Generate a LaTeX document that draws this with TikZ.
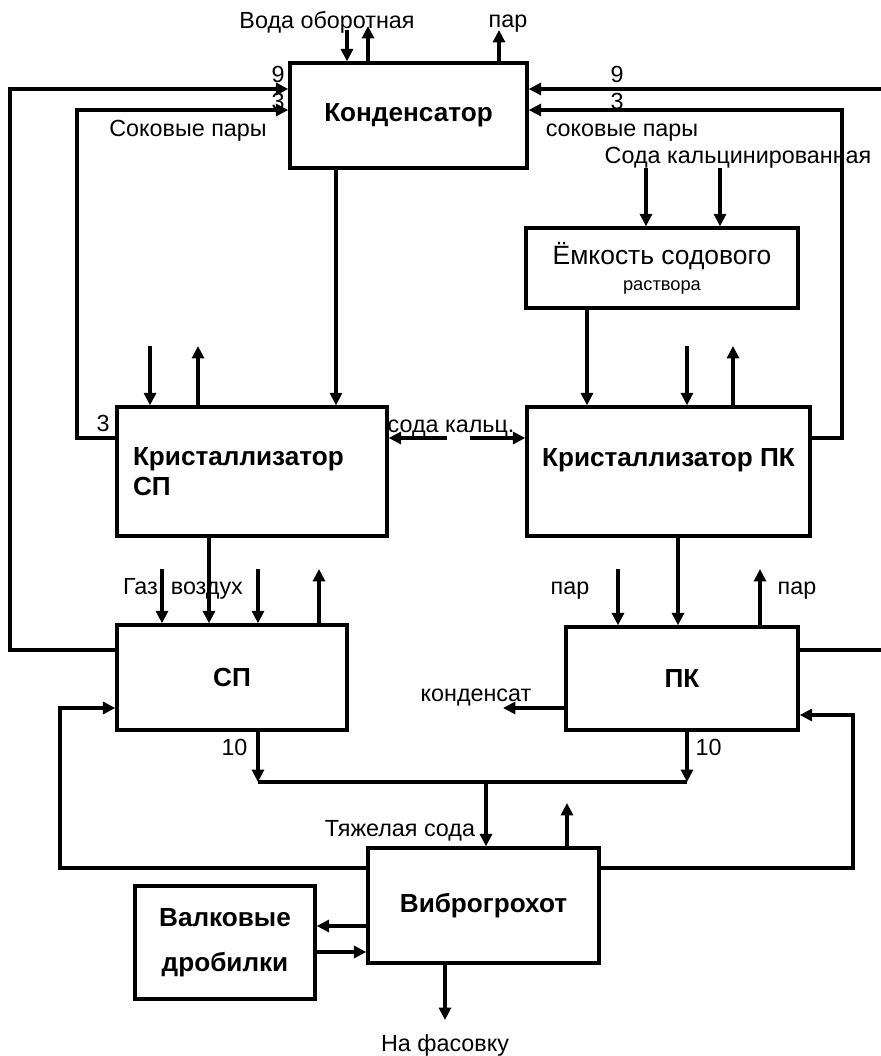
\documentclass[tikz,border=0pt]{standalone}
\usepackage{fontspec}
\setmainfont{Liberation Sans}
\usetikzlibrary{arrows.meta,positioning,calc}

\begin{document}
\begin{tikzpicture}[
        box/.style={draw,line width=2.4pt,font=\fontsize{18.6}{21.3}\selectfont\bfseries,
                    inner sep=0pt,text centered},
        lbl/.style={font=\fontsize{16.6}{19}\selectfont,inner sep=0pt,anchor=base},
        arr/.style={-{Triangle[length=3.1mm,width=3mm]},line width=2.4pt},
        pipe/.style={line width=2.4pt}
      ]
        \useasboundingbox (0,0) rectangle (22.025,26.4);
        \node[box,minimum width=5.925cm,minimum height=2.625cm] (kond) at (10.2125,23.5125) {Конденсатор};
        \node[box,minimum width=6.8cm,minimum height=2cm,align=center,
              font=\fontsize{18.8}{18.5}\selectfont] (emk) at (16.55,19.7)
              {Ёмкость содового\\{\fontsize{13}{18.5}\selectfont раствора}};
        \node[box,minimum width=6.75cm,minimum height=3.225cm,text width=5.95cm,align=left] (krsp) at (6.3,14.6125) {Кристаллизатор\\СП};
        \node[box,minimum width=7.075cm,minimum height=3.225cm,text depth=0.7cm] (krpk) at (16.7125,14.6125) {Кристаллизатор ПК};
        \node[box,minimum width=5.75cm,minimum height=2.625cm] (sp) at (5.8,9.4625) {СП};
        \node[box,minimum width=5.8cm,minimum height=2.575cm] (pk) at (17.05,9.4375) {ПК};
        \node[box,minimum width=5.775cm,minimum height=2.875cm] (vibro) at (12.0875,3.7625) {Виброгрохот};
        \node[box,minimum width=4.5cm,minimum height=2.825cm,align=center,
              font=\fontsize{18.6}{32}\selectfont\bfseries] (valk) at (5.625,2.8375) {Валковые\\дробилки};

        \node[lbl] (tWater) at (8.175,25.675) {Вода оборотная};
        \node[lbl] (tSteam) at (12.7,25.7) {пар};
        \node[lbl] (tNineL) at (6.95,24.325) {9};
        \node[lbl] (tThreeL) at (6.95,23.65) {3};
        \node[lbl] (tJuiceL) at (4.7,22.975) {Соковые пары};
        \node[lbl] (tNineR) at (15.425,24.325) {9};
        \node[lbl] (tThreeR) at (15.425,23.65) {3};
        \node[lbl] (tJuiceR) at (15.55,22.975) {соковые пары};
        \node[lbl] (tSoda) at (18.45,22.3) {Сода кальцинированная};
        \node[lbl] (tThreeC) at (2.575,15.6) {3};
        \node[lbl] (tSodaK) at (11.275,15.575) {сода кальц.};
        \node[lbl] (tGas) at (4.575,11.525) {Газ, воздух};
        \node[lbl] (tParIn) at (14.25,11.525) {пар};
        \node[lbl] (tParOut) at (19.925,11.525) {пар};
        \node[lbl] (tCond) at (11.9,8.85) {конденсат};
        \node[lbl] (tTenL) at (5.8625,7.5) {10};
        \node[lbl] (tTenR) at (17.7125,7.5) {10};
        \node[lbl] (tHeavy) at (10.0,5.475) {Тяжелая сода};
        \node[lbl] (tPack) at (11.125,0.1) {На фасовку};

        \coordinate (wIn) at (8.675,25.65);
        \coordinate (wOut) at (9.2,25.75);
        \coordinate (kSteam) at (12.475,25.65);
        \coordinate (lFar) at (0.25,24.175);
        \coordinate (lNear) at (1.925,23.65);
        \coordinate (rFar) at (22.025,24.175);
        \coordinate (rNear) at (21.05,23.65);
        \coordinate (rEdge) at (22.025,10.15);
        \coordinate (sodaA) at (16.15,22.2);
        \coordinate (sodaB) at (18.0,22.2);
        \coordinate (cIn) at (3.75,17.75);
        \coordinate (cOut) at (4.95,17.75);
        \coordinate (pIn) at (17.175,17.75);
        \coordinate (pOut) at (18.325,17.75);
        \coordinate (scL) at (11.175,15.45);
        \coordinate (scR) at (11.75,15.45);
        \coordinate (gIn) at (4.05,12.175);
        \coordinate (gInB) at (6.45,12.175);
        \coordinate (gOut) at (7.975,12.175);
        \coordinate (parIn) at (15.45,12.175);
        \coordinate (parOut) at (19.0,12.175);
        \coordinate (condOut) at (12.575,8.7);
        \coordinate (jL) at (6.45,6.85);
        \coordinate (jR) at (17.175,6.85);
        \coordinate (jM) at (12.15,6.85);
        \coordinate (vOut) at (14.175,6.325);
        \coordinate (pack) at (11.125,0.9);

        \draw[arr] (wIn)--(wIn|-kond.north);
        \draw[arr] (wOut|-kond.north)--(wOut);
        \draw[arr] (kSteam|-kond.north)--(kSteam);
        \draw[arr] (sp.west|-0,10.15)-|(lFar)--(lFar-|kond.west);
        \draw[arr] (krsp.west|-0,15.45)-|(lNear)--(lNear-|kond.west);
        \draw[arr] (rFar)--(rFar-|kond.east);
        \draw[arr] (krpk.east|-0,15.45)-|(rNear)--(rNear-|kond.east);
        \draw[pipe] (pk.east|-rEdge)--(rEdge);
        \draw[arr] (8.4,0|-kond.south)--(8.4,0|-krsp.north);
        \draw[arr] (sodaA)--(sodaA|-emk.north);
        \draw[arr] (sodaB)--(sodaB|-emk.north);
        \draw[arr] (14.675,0|-emk.south)--(14.675,0|-krpk.north);
        \draw[arr] (cIn)--(cIn|-krsp.north);
        \draw[arr] (cOut|-krsp.north)--(cOut);
        \draw[arr] (pIn)--(pIn|-krpk.north);
        \draw[arr] (pOut|-krpk.north)--(pOut);
        \draw[arr] (scL)--(scL-|krsp.east);
        \draw[arr] (scR)--(scR-|krpk.west);
        \draw[arr] (5.225,0|-krsp.south)--(5.225,0|-sp.north);
        \draw[arr] (gIn)--(gIn|-sp.north);
        \draw[arr] (gInB)--(gInB|-sp.north);
        \draw[arr] (gOut|-sp.north)--(gOut);
        \draw[arr] (16.95,0|-krpk.south)--(16.95,0|-pk.north);
        \draw[arr] (parIn)--(parIn|-pk.north);
        \draw[arr] (parOut|-pk.north)--(parOut);
        \draw[arr] (pk.west|-condOut)--(condOut);
        \draw[arr] (vibro.west|-0,4.7)-|(1.5,8.7)--(sp.west|-0,8.7);
        \draw[arr] (vibro.east|-0,4.7)-|(21.325,8.525)--(pk.east|-0,8.525);
        \draw[arr] (jL|-sp.south)--(jL);
        \draw[arr] (jR|-pk.south)--(jR);
        \draw[pipe] (jL)--(jR);
        \draw[arr] (jM)--(jM|-vibro.north);
        \draw[arr] (vOut|-vibro.north)--(vOut);
        \draw[arr] (vibro.west|-0,3.25)--(valk.east|-0,3.25);
        \draw[arr] (valk.east|-0,2.6)--(vibro.west|-0,2.6);
        \draw[arr] (pack|-vibro.south)--(pack);
      \end{tikzpicture}
\end{document}
